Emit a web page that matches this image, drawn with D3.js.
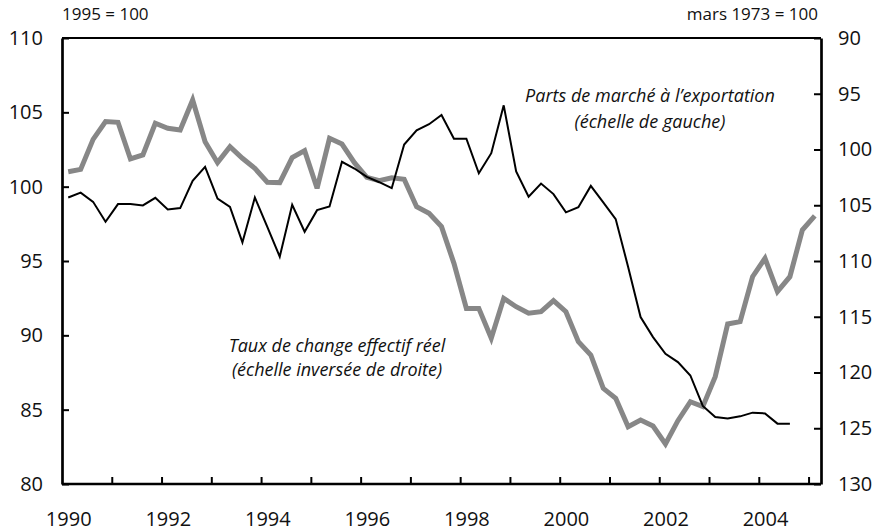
<!DOCTYPE html>
<html>
<head>
<meta charset="utf-8">
<script src="https://cdn.jsdelivr.net/npm/d3@7"></script>
<style>
  html, body { margin: 0; padding: 0; background: #ffffff; }
  svg { display: block; }
  text { font-family: "Open Sans", "DejaVu Sans", sans-serif; fill: #111; }
</style>
</head>
<body>
<svg id="chart" width="883" height="532"></svg>
<script>
// ---- Data (quarterly, 1990T1 onward) ----
const startYear = 1990;
const xTickYears = [1990,1991,1992,1993,1994,1995,1996,1997,1998,1999,2000,2001,2002,2003,2004,2005];
const xLabelYears = [1990,1992,1994,1996,1998,2000,2002,2004];
const leftTicks = [80, 85, 90, 95, 100, 105, 110];
const rightTicks = [90, 95, 100, 105, 110, 115, 120, 125, 130];

// Parts de marché à l'exportation (1995 = 100, left scale)
const partsMarche = [99.27, 99.6, 98.98, 97.64, 98.83, 98.83, 98.74, 99.25, 98.47, 98.56,
  100.39, 101.33, 99.2, 98.64, 96.25, 99.27, 97.3, 95.29, 98.78, 96.97,
  98.42, 98.67, 101.67, 101.22, 100.66, 100.3, 99.9, 102.83, 103.79, 104.2,
  104.82, 103.23, 103.23, 100.9, 102.25, 105.47, 101.02, 99.32, 100.21, 99.5,
  98.27, 98.62, 100.05, 98.94, 97.82, 94.6, 91.23, 89.88, 88.76, 88.2,
  87.3, 85.25, 84.51, 84.4, 84.55, 84.8, 84.75, 84.06, 84.06];

// Taux de change effectif réel (mars 1973 = 100, inverted right scale)
const tauxChange = [101.99, 101.78, 99.09, 97.5, 97.56, 100.85, 100.49, 97.65, 98.1, 98.25,
  95.56, 99.3, 101.18, 99.75, 100.79, 101.69, 102.94, 102.97, 100.73, 100.1,
  103.48, 99.0, 99.51, 101.18, 102.5, 102.8, 102.53, 102.67, 105.13, 105.72,
  106.92, 110.21, 114.25, 114.25, 116.93, 113.35, 114.1, 114.69, 114.55, 113.56,
  114.55, 117.24, 118.43, 121.42, 122.31, 124.86, 124.26, 124.8, 126.41, 124.32,
  122.62, 123.06, 120.37, 115.65, 115.44, 111.41, 109.76, 112.75, 111.41, 107.22,
  105.96];

// quarter midpoints as category positions
const quarterPos = i => startYear + (i + 0.5) / 4;

// ---- Layout ----
const svg = d3.select("#chart");
const L = 62, R = 821, T = 38, B = 484;

const x = d3.scaleLinear().domain([1990, 2005.25]).range([L, R]);
const yL = d3.scaleLinear().domain([80, 110]).range([B, T]);
const yR = d3.scaleLinear().domain([90, 130]).range([T, B]);

// ---- Lines ----
const lineL = d3.line().x((d, i) => x(quarterPos(i))).y(d => yL(d));
const lineR = d3.line().x((d, i) => x(quarterPos(i))).y(d => yR(d));

svg.append("path").datum(tauxChange)
  .attr("d", lineR).attr("fill", "none")
  .attr("stroke", "#878787").attr("stroke-width", 5)
  .attr("stroke-linejoin", "miter").attr("stroke-miterlimit", 3);

svg.append("path").datum(partsMarche)
  .attr("d", lineL).attr("fill", "none")
  .attr("stroke", "#000").attr("stroke-width", 2)
  .attr("stroke-linejoin", "miter").attr("stroke-miterlimit", 4);

// ---- Frame ----
svg.append("line").attr("x1", L).attr("x2", R).attr("y1", T).attr("y2", T)
  .attr("stroke", "#000").attr("stroke-width", 2.2);

// ---- Axes ----
const axisStyle = g => {
  g.select(".domain").attr("stroke", "#000").attr("stroke-width", 2.7);
  g.selectAll(".tick line").attr("stroke", "#000").attr("stroke-width", 2);
  g.selectAll(".tick text").attr("font-size", 20).attr("fill", "#111")
    .attr("font-family", "'Open Sans', 'DejaVu Sans', sans-serif");
};

svg.append("g").attr("transform", `translate(${L},0)`)
  .call(d3.axisLeft(yL).tickValues(leftTicks).tickSizeInner(-7).tickSizeOuter(0).tickPadding(19))
  .call(axisStyle);

svg.append("g").attr("transform", `translate(${R},0)`)
  .call(d3.axisRight(yR).tickValues(rightTicks).tickSizeInner(-7).tickSizeOuter(0).tickPadding(17))
  .call(axisStyle);

const xAxisG = svg.append("g").attr("transform", `translate(0,${B})`)
  .call(d3.axisBottom(x).tickValues(xTickYears).tickSizeInner(-7).tickSizeOuter(0).tickPadding(28)
    .tickFormat(d => xLabelYears.includes(d) ? String(d) : ""))
  .call(axisStyle);
xAxisG.select(".domain").attr("d", `M${L},0H${R}`);
xAxisG.selectAll(".tick text")
  .attr("y", 41.5).attr("dy", null)
  .attr("dx", x(1990.125) - x(1990));
xAxisG.selectAll(".tick").filter(d => d === 1990).select("line").remove();

// ---- Unit labels ----
svg.append("text").attr("x", 62).attr("y", 20).attr("font-size", 17)
  .text("1995 = 100");
svg.append("text").attr("x", 818).attr("y", 20).attr("font-size", 17)
  .attr("text-anchor", "end").text("mars 1973 = 100");

// ---- Annotations ----
const ann = (cx, y, lines, gap) => {
  const t = svg.append("text").attr("text-anchor", "middle")
    .attr("font-size", 18).attr("font-style", "italic");
  lines.forEach((s, k) => t.append("tspan").attr("x", cx).attr("y", y + k * gap).text(s));
};
ann(650, 102, ["Parts de marché à l\u2019exportation", "(échelle de gauche)"], 26);
ann(337, 352, ["Taux de change effectif réel", "(échelle inversée de droite)"], 24);
</script>
</body>
</html>
